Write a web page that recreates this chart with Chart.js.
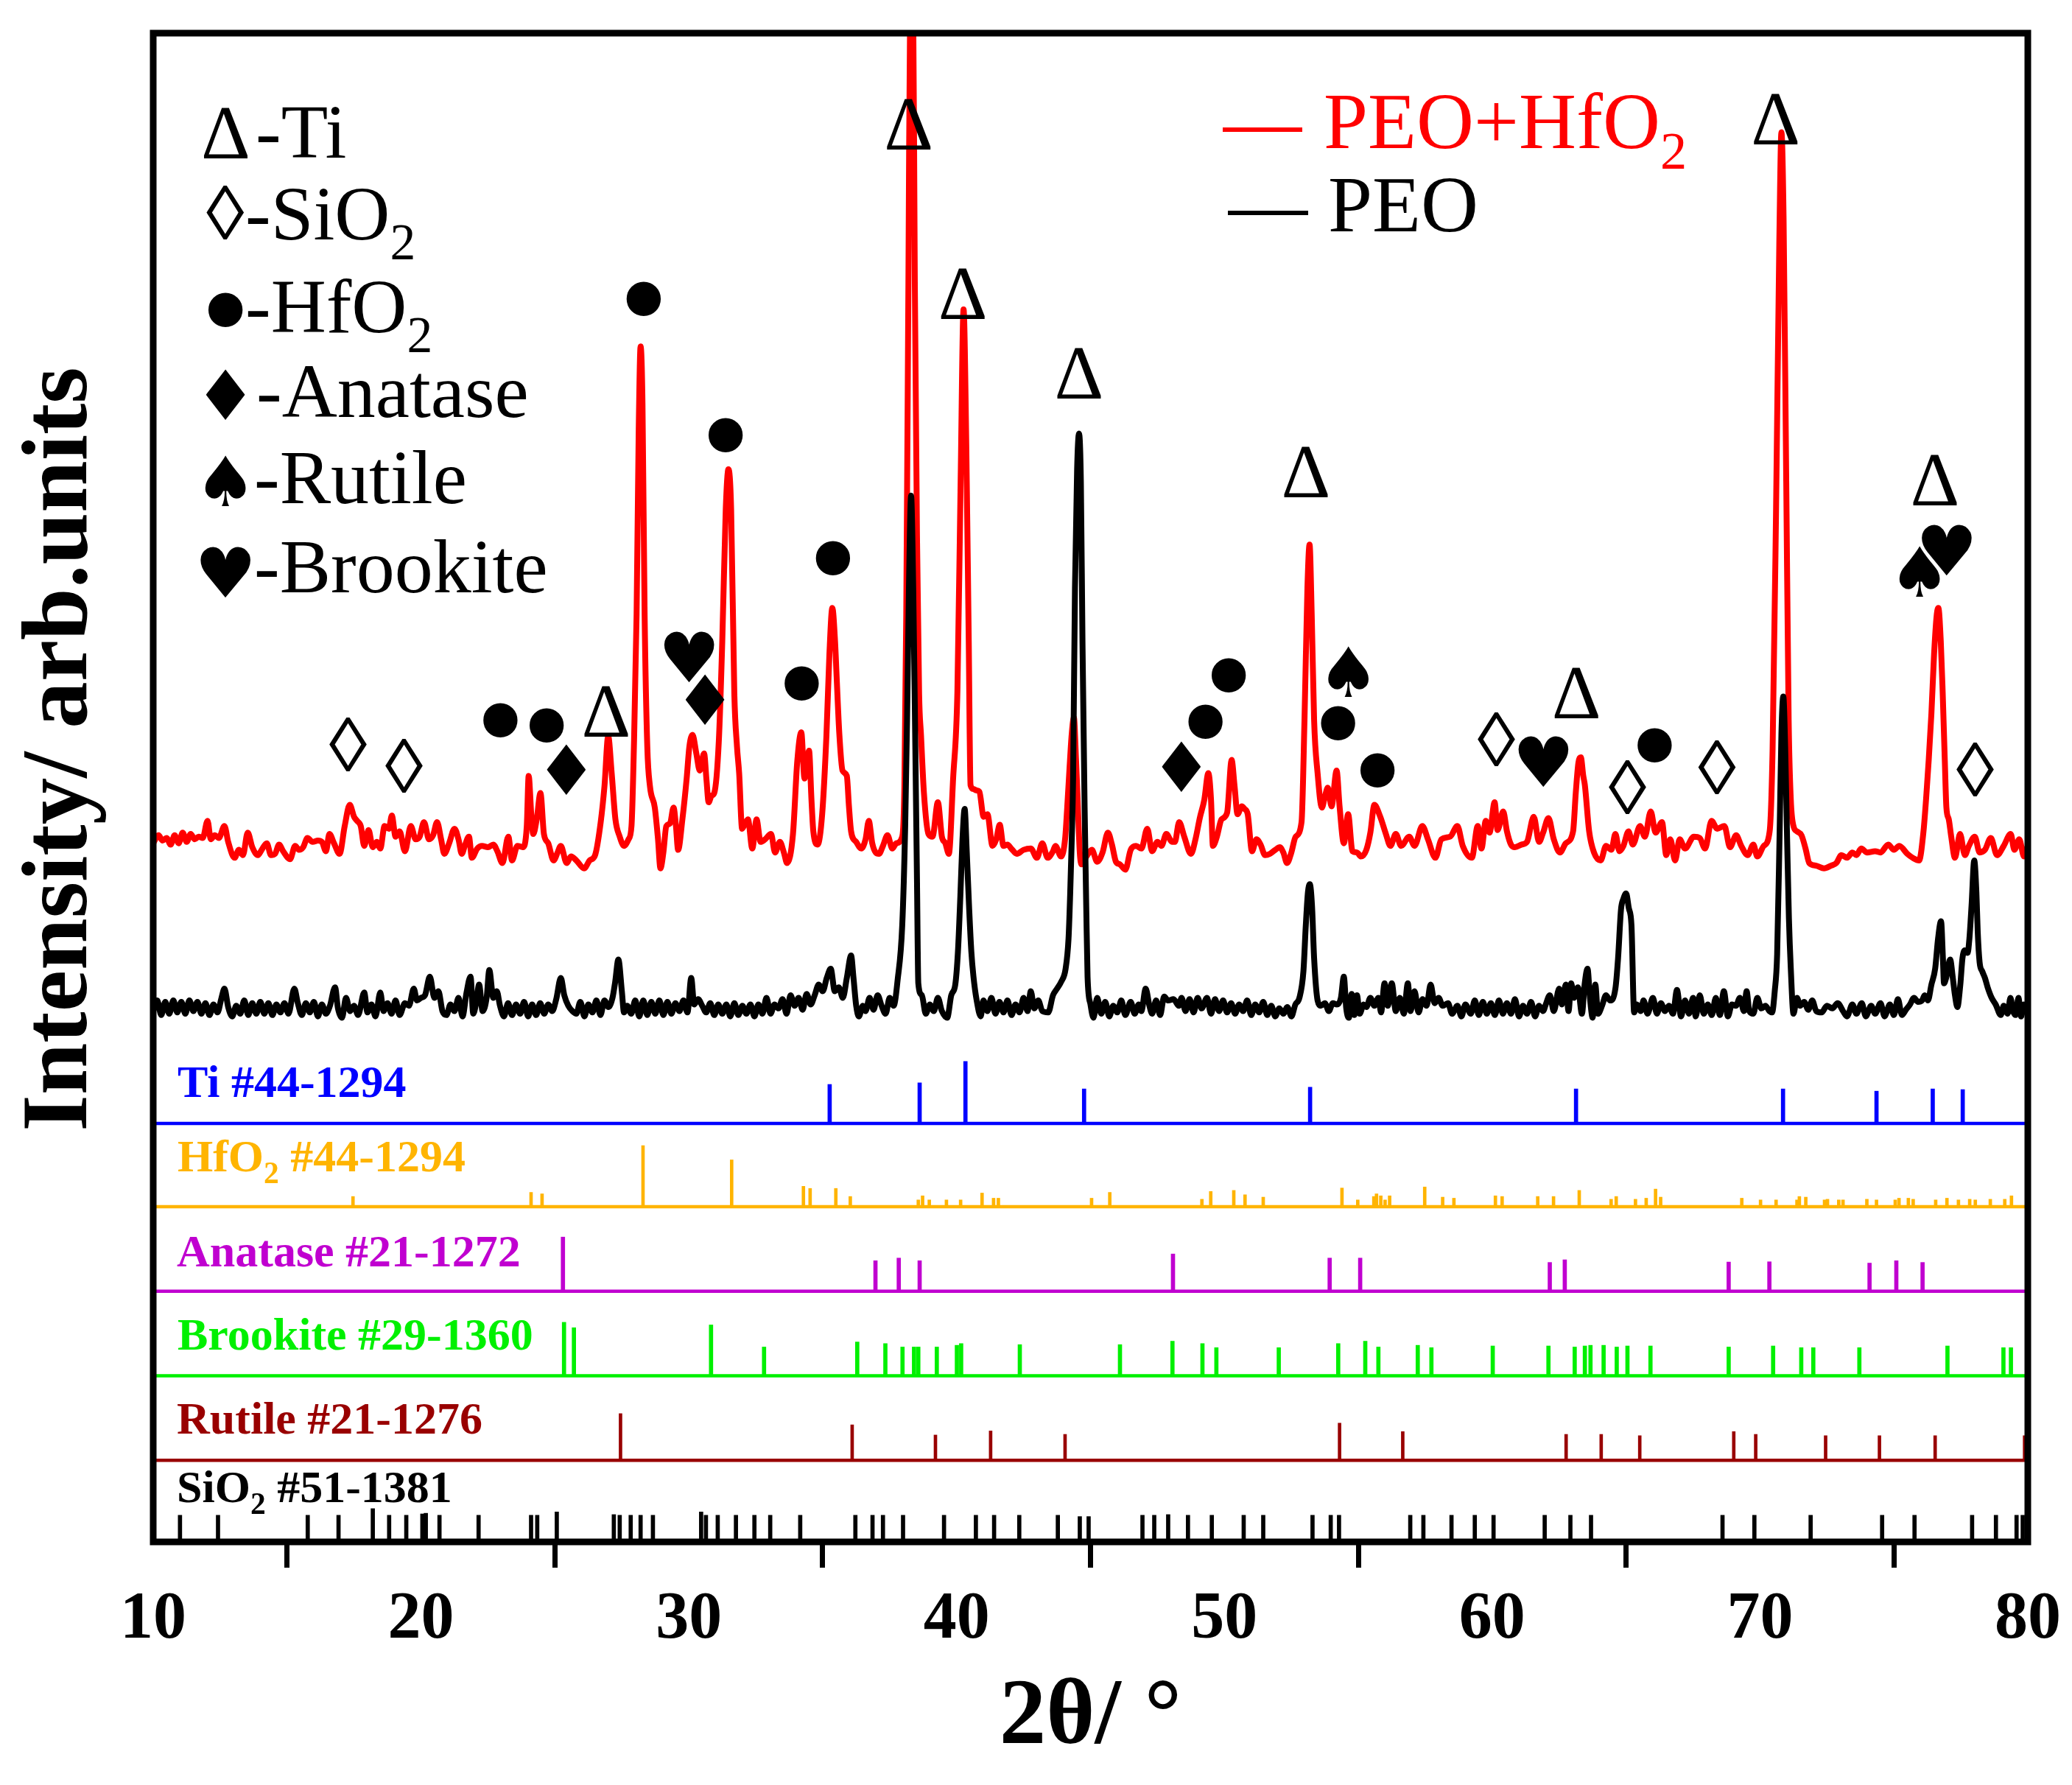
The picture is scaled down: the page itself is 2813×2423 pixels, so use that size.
<!DOCTYPE html>
<html>
<head>
<meta charset="utf-8">
<script src="https://cdn.jsdelivr.net/npm/chart.js@4.4.0/dist/chart.umd.min.js"></script>
<style>html,body{margin:0;padding:0;background:#fff}canvas{display:block}</style>
</head>
<body>
<canvas id="xrd" width="2813" height="2423"></canvas>
<script>
// measured patterns, [2theta, intensity] (arb. units)
const peoHfO2 = [
  [10.0,527],[10.2,533],[10.35,529],[10.5,531],[10.65,526],[10.8,533],[10.95,527],[11.1,535],[11.25,528],[11.4,534],
  [11.55,530],[11.7,532],[11.85,531],[12.03,544],[12.15,530],[12.3,533],[12.45,531],[12.66,540],[12.8,528],[13.04,516],
  [13.2,522],[13.35,518],[13.53,535],[13.7,524],[13.91,518],[14.05,522],[14.24,527],[14.4,518],[14.55,519],[14.7,526],
  [14.85,521],[15.11,515],[15.3,525],[15.45,522],[15.6,524],[15.76,531],[15.95,528],[16.15,529],[16.3,528],[16.45,521],
  [16.58,534],[16.75,527],[16.96,519],[17.15,540],[17.34,556],[17.5,547],[17.61,544],[17.75,540],[17.88,525],[18.04,537],
  [18.2,524],[18.35,528],[18.48,523],[18.64,540],[18.8,538],[18.91,548],[19.05,532],[19.2,536],[19.4,521],[19.62,540],
  [19.8,530],[19.95,532],[20.11,543],[20.3,530],[20.45,533],[20.6,543],[20.75,530],[20.87,519],[21.05,527],[21.25,538],
  [21.4,530],[21.52,519],[21.65,526],[21.79,532],[21.9,516],[22.1,523],[22.28,525],[22.5,524],[22.7,526],[22.85,521],
  [23.04,512],[23.26,532],[23.4,514],[23.6,525],[23.8,524],[23.95,540],[24.02,578],[24.12,548],[24.19,534],[24.32,545],
  [24.46,565],[24.59,534],[24.75,527],[24.95,514],[25.1,520],[25.22,525],[25.44,512],[25.6,517],[25.8,514],[26.09,508],
  [26.3,514],[26.5,518],[26.71,543],[26.85,570],[26.99,608],[27.12,580],[27.26,545],[27.42,532],[27.58,525],[27.75,530],
  [27.86,540],[27.95,600],[28.05,700],[28.13,840],[28.2,903],[28.27,860],[28.35,700],[28.45,600],[28.55,570],[28.73,554],
  [28.85,530],[28.94,508],[29.05,520],[29.16,540],[29.3,542],[29.43,554],[29.52,540],[29.6,522],[29.76,545],[29.92,576],
  [30.02,600],[30.14,609],[30.28,595],[30.41,582],[30.57,595],[30.66,575],[30.74,558],[30.85,563],[30.95,565],[31.12,604],
  [31.25,680],[31.38,780],[31.48,810],[31.58,780],[31.7,640],[31.8,600],[31.88,580],[31.99,538],[32.1,542],[32.21,545],
  [32.37,523],[32.53,545],[32.68,528],[32.85,530],[33.07,534],[33.22,520],[33.4,528],[33.55,520],[33.67,512],[33.89,534],
  [34.05,589],[34.2,611],[34.32,576],[34.42,590],[34.49,597],[34.58,560],[34.65,536],[34.81,526],[34.98,549],[35.14,609],
  [35.25,670],[35.36,705],[35.46,680],[35.52,653],[35.62,610],[35.74,582],[35.9,578],[35.98,555],[36.06,536],[36.25,528],
  [36.44,523],[36.6,530],[36.72,544],[36.85,527],[36.98,520],[37.1,519],[37.25,525],[37.42,533],[37.6,523],[37.75,527],
  [37.97,532],[38.05,570],[38.12,700],[38.2,950],[38.28,1200],[38.36,1210],[38.44,950],[38.52,760],[38.6,640],[38.67,609],
  [38.78,565],[38.95,534],[39.1,532],[39.3,558],[39.45,532],[39.58,527],[39.71,519],[39.87,576],[40.03,642],[40.15,800],
  [40.26,931],[40.36,830],[40.45,686],[40.52,571],[40.63,568],[40.74,567],[40.85,566],[41.01,547],[41.15,549],[41.34,525],
  [41.48,530],[41.61,541],[41.75,525],[41.9,526],[42.04,523],[42.25,519],[42.5,522],[42.77,523],[43.0,516],[43.2,527],
  [43.4,516],[43.6,521],[43.69,525],[43.9,517],[44.05,530],[44.13,554],[44.22,585],[44.3,610],[44.38,622],[44.46,590],
  [44.51,565],[44.6,520],[44.67,511],[44.85,517],[45.05,522],[45.25,513],[45.45,520],[45.65,535],[45.8,526],[45.95,513],
  [46.1,511],[46.3,507],[46.5,522],[46.7,525],[46.9,523],[47.12,538],[47.3,521],[47.5,528],[47.65,525],[47.83,534],
  [48.05,528],[48.15,528],[48.31,543],[48.5,532],[48.75,519],[48.92,530],[49.08,546],[49.25,560],[49.4,580],[49.5,560],
  [49.57,525],[49.72,532],[49.89,545],[50.1,550],[50.27,590],[50.38,570],[50.49,549],[50.65,555],[50.75,553],[50.87,549],
  [51.03,521],[51.2,530],[51.35,526],[51.52,518],[51.7,519],[51.9,522],[52.07,524],[52.2,520],[52.34,512],[52.5,520],
  [52.66,532],[52.88,543],[52.99,620],[53.1,720],[53.18,753],[53.26,700],[53.35,620],[53.48,580],[53.64,554],[53.75,562],
  [53.86,569],[54.0,555],[54.19,582],[54.3,555],[54.46,527],[54.62,549],[54.78,521],[54.95,520],[55.1,517],[55.3,522],
  [55.45,535],[55.6,556],[55.82,547],[56.03,534],[56.2,525],[56.4,534],[56.6,525],[56.9,532],[57.1,525],[57.39,540],
  [57.6,530],[57.88,516],[58.1,530],[58.43,532],[58.7,540],[58.9,525],[59.24,516],[59.46,540],[59.6,523],[59.76,544],
  [59.9,535],[60.09,558],[60.2,537],[60.41,551],[60.55,536],[60.7,526],[60.85,524],[61.1,526],[61.3,528],[61.55,547],
  [61.75,528],[61.9,535],[62.1,546],[62.3,530],[62.53,520],[62.75,527],[63.02,536],[63.12,565],[63.22,588],[63.31,592],
  [63.4,578],[63.46,571],[63.62,536],[63.8,520],[64.05,514],[64.25,525],[64.45,522],[64.6,534],[64.75,521],[64.9,525],
  [65.09,536],[65.25,526],[65.52,540],[65.7,532],[65.92,551],[66.1,535],[66.34,543],[66.5,518],[66.65,530],[66.83,514],
  [67.0,530],[67.2,523],[67.53,532],[67.75,531],[67.95,523],[68.19,544],[68.4,538],[68.67,540],[68.88,524],[69.11,533],
  [69.3,525],[69.54,518],[69.75,526],[69.9,517],[70.14,525],[70.36,536],[70.47,598],[70.6,780],[70.72,980],[70.8,1065],
  [70.88,1000],[70.98,800],[71.07,620],[71.15,560],[71.25,540],[71.38,536],[71.55,533],[71.7,523],[71.84,512],[72.1,510],
  [72.39,508],[72.65,510],[72.85,512],[73.04,518],[73.25,516],[73.45,520],[73.6,518],[73.78,523],[74.0,520],[74.3,521],
  [74.5,520],[74.79,526],[75.0,522],[75.2,525],[75.5,519],[75.7,516],[75.94,514],[76.1,535],[76.2,560],[76.3,590],
  [76.4,625],[76.5,670],[76.6,700],[76.66,705],[76.75,680],[76.82,642],[76.9,590],[76.96,554],[77.05,545],[77.14,532],
  [77.28,516],[77.47,534],[77.65,518],[77.8,525],[78.02,532],[78.2,520],[78.4,522],[78.62,531],[78.85,518],[79.1,525],
  [79.36,534],[79.5,522],[79.68,530],[79.86,517],[80.0,525]
];

const peo = [
  [10.0,400],[10.15,408],[10.3,397],[10.45,407],[10.6,398],[10.75,408],[10.9,399],[11.05,407],[11.2,398],[11.35,408],
  [11.5,400],[11.65,407],[11.8,398],[11.95,406],[12.1,397],[12.25,405],[12.4,399],[12.55,410],[12.66,417],[12.8,403],
  [12.95,396],[13.1,404],[13.25,398],[13.4,408],[13.55,397],[13.7,406],[13.85,398],[14.0,407],[14.15,398],[14.3,406],
  [14.45,397],[14.6,405],[14.75,399],[14.9,406],[15.05,398],[15.27,417],[15.4,406],[15.55,397],[15.7,406],[15.85,399],
  [16.0,407],[16.15,396],[16.3,405],[16.45,398],[16.6,404],[16.79,418],[16.9,402],[17.05,395],[17.2,410],[17.35,400],
  [17.5,404],[17.65,397],[17.88,414],[18.0,399],[18.15,405],[18.3,396],[18.48,414],[18.6,400],[18.75,406],[18.9,398],
  [19.05,408],[19.2,397],[19.4,406],[19.55,404],[19.73,417],[19.85,408],[20.0,410],[20.15,412],[20.33,426],[20.5,410],
  [20.65,415],[20.8,400],[20.95,397],[21.1,405],[21.25,400],[21.4,410],[21.55,396],[21.7,414],[21.85,426],[21.95,398],
  [22.05,405],[22.17,420],[22.3,400],[22.45,410],[22.55,431],[22.7,410],[22.83,415],[22.95,404],[23.1,396],[23.25,406],
  [23.4,397],[23.55,405],[23.7,398],[23.85,407],[24.0,396],[24.15,405],[24.3,397],[24.45,406],[24.6,398],[24.75,405],
  [24.9,400],[25.05,409],[25.22,425],[25.35,412],[25.5,404],[25.65,400],[25.8,398],[25.95,407],[26.1,396],[26.25,405],
  [26.4,399],[26.55,408],[26.7,397],[26.85,408],[27.0,403],[27.15,410],[27.25,422],[27.37,439],[27.5,415],[27.58,399],
  [27.7,404],[27.85,398],[28.0,408],[28.15,396],[28.3,408],[28.45,397],[28.6,407],[28.75,398],[28.9,408],[29.05,397],
  [29.2,407],[29.35,398],[29.5,406],[29.65,400],[29.8,408],[29.95,399],[30.09,425],[30.2,405],[30.35,409],[30.5,404],
  [30.65,399],[30.8,406],[30.95,397],[31.1,405],[31.25,398],[31.4,405],[31.55,396],[31.7,406],[31.85,397],[32.0,404],
  [32.15,398],[32.3,405],[32.45,396],[32.6,405],[32.75,398],[32.9,410],[33.05,398],[33.2,405],[33.35,402],[33.5,409],
  [33.65,398],[33.8,412],[33.95,404],[34.1,410],[34.25,401],[34.4,413],[34.55,405],[34.7,412],[34.85,420],[35.0,415],
  [35.15,425],[35.3,432],[35.45,415],[35.6,418],[35.75,410],[35.9,425],[36.06,442],[36.15,425],[36.25,404],[36.35,396],
  [36.5,404],[36.6,400],[36.75,410],[36.9,401],[37.05,412],[37.2,404],[37.35,398],[37.5,410],[37.65,404],[37.8,424],
  [37.97,465],[38.08,540],[38.15,620],[38.22,720],[38.3,790],[38.38,720],[38.46,598],[38.52,500],[38.57,421],[38.7,412],
  [38.85,398],[39.0,405],[39.15,400],[39.3,410],[39.45,400],[39.65,395],[39.8,412],[39.95,420],[40.05,445],[40.14,487],
  [40.22,530],[40.3,553],[40.38,520],[40.47,477],[40.55,445],[40.63,426],[40.75,408],[40.9,396],[41.0,408],[41.15,400],
  [41.3,410],[41.45,398],[41.6,407],[41.75,399],[41.9,408],[42.05,397],[42.2,405],[42.35,399],[42.5,410],[42.65,400],
  [42.77,415],[42.9,402],[43.05,408],[43.2,400],[43.42,399],[43.6,412],[43.75,417],[43.9,422],[44.07,432],[44.18,455],
  [44.24,488],[44.3,530],[44.35,576],[44.42,720],[44.5,810],[44.57,837],[44.64,800],[44.7,680],[44.78,554],[44.84,480],
  [44.89,426],[45.0,405],[45.11,395],[45.25,410],[45.4,398],[45.55,407],[45.7,396],[45.85,404],[46.0,399],[46.15,408],
  [46.3,397],[46.5,407],[46.65,398],[46.8,405],[46.9,400],[47.06,417],[47.2,404],[47.3,398],[47.45,408],[47.6,397],
  [47.75,411],[47.9,408],[48.1,409],[48.3,404],[48.4,410],[48.55,400],[48.7,409],[48.85,399],[49.0,410],[49.15,402],
  [49.35,410],[49.5,398],[49.65,409],[49.8,400],[49.95,408],[50.1,399],[50.25,406],[50.4,398],[50.55,405],[50.7,400],
  [50.85,408],[51.0,397],[51.15,405],[51.3,399],[51.45,407],[51.6,397],[51.75,404],[51.9,396],[52.05,402],[52.2,398],
  [52.35,403],[52.5,396],[52.65,405],[52.8,410],[52.95,430],[53.04,465],[53.12,490],[53.19,496],[53.27,480],[53.35,440],
  [53.48,408],[53.6,404],[53.75,406],[53.9,400],[54.05,406],[54.2,405],[54.35,410],[54.46,426],[54.55,402],[54.65,395],
  [54.75,413],[54.85,397],[54.95,412],[55.05,398],[55.2,405],[55.3,403],[55.45,410],[55.6,404],[55.75,410],[55.85,399],
  [55.98,421],[56.1,404],[56.25,421],[56.4,400],[56.55,410],[56.7,398],[56.85,421],[56.95,400],[57.1,415],[57.25,399],
  [57.4,409],[57.55,404],[57.7,420],[57.85,406],[58.0,410],[58.15,404],[58.35,406],[58.5,398],[58.7,404],[58.85,396],
  [59.0,405],[59.2,398],[59.35,408],[59.5,397],[59.65,407],[59.8,398],[59.95,406],[60.1,397],[60.25,408],[60.4,398],
  [60.55,406],[60.7,398],[60.85,409],[61.0,396],[61.15,404],[61.3,398],[61.45,407],[61.6,396],[61.75,404],[61.9,400],
  [62.0,405],[62.15,412],[62.3,400],[62.5,417],[62.6,405],[62.75,420],[62.85,400],[62.95,421],[63.05,410],[63.2,418],
  [63.35,398],[63.45,420],[63.56,432],[63.65,410],[63.75,395],[63.85,420],[63.95,398],[64.1,404],[64.25,412],[64.4,408],
  [64.6,417],[64.7,440],[64.81,477],[64.9,485],[65.0,489],[65.1,478],[65.2,465],[65.3,399],[65.4,405],[65.55,400],
  [65.65,408],[65.8,398],[66.0,410],[66.15,398],[66.3,406],[66.45,400],[66.6,404],[66.75,398],[66.9,416],[67.05,396],
  [67.2,408],[67.35,398],[67.5,410],[67.6,396],[67.75,412],[67.9,398],[68.05,405],[68.2,397],[68.35,410],[68.5,397],
  [68.65,415],[68.8,396],[68.95,405],[69.1,404],[69.25,410],[69.4,400],[69.5,415],[69.6,400],[69.75,398],[69.9,410],
  [70.05,402],[70.2,404],[70.35,400],[70.45,399],[70.55,415],[70.64,443],[70.73,532],[70.8,610],[70.87,638],[70.94,600],
  [71.01,532],[71.08,470],[71.15,432],[71.25,398],[71.38,410],[71.5,404],[71.65,407],[71.8,401],[71.95,408],[72.1,400],
  [72.3,399],[72.5,404],[72.7,402],[72.9,406],[73.1,400],[73.25,396],[73.45,405],[73.6,398],[73.8,406],[73.95,396],
  [74.15,404],[74.3,398],[74.5,406],[74.65,396],[74.85,405],[75.0,397],[75.15,409],[75.3,397],[75.45,401],[75.6,405],
  [75.75,410],[75.9,407],[76.05,408],[76.15,412],[76.27,408],[76.4,420],[76.54,432],[76.65,455],[76.76,468],[76.83,440],
  [76.87,421],[76.95,425],[77.1,439],[77.2,425],[77.28,412],[77.37,403],[77.48,420],[77.56,440],[77.65,446],[77.75,444],
  [77.82,455],[77.9,480],[78.0,514],[78.08,490],[78.13,460],[78.2,437],[78.3,430],[78.4,425],[78.5,418],[78.65,410],
  [78.8,405],[78.99,397],[79.1,404],[79.25,398],[79.35,410],[79.45,400],[79.55,397],[79.65,410],[79.75,396],[79.85,405],
  [80.0,400]
];

// reference cards: line positions (2theta) and stick heights
const tiPos = [35.26, 38.62, 40.33, 44.76, 53.2, 63.13, 70.86, 74.35, 76.45, 77.57];
const tiInt = [29.5, 30.7, 46.9, 26.1, 27.4, 26.1, 26.1, 24.4, 26.1, 25.6];

const hfPos = [17.46, 24.11, 24.52, 28.29, 31.6, 34.28, 34.53, 35.49, 36.03, 38.57, 38.73, 38.98, 39.62, 40.15, 40.95,
  41.38, 41.56, 45.04, 45.72, 49.16, 49.49, 50.35, 50.77, 51.45, 54.39, 54.98, 55.58, 55.68, 55.84, 56.0, 56.17, 57.48,
  58.15, 58.57, 60.12, 60.37, 61.7, 62.29, 63.25, 64.44, 64.63, 65.35, 65.75, 66.1, 66.29, 69.32, 70.02, 70.6, 71.38,
  71.47, 71.71, 72.41, 72.52, 72.94, 73.1, 73.99, 74.35, 75.05, 75.19, 75.54, 75.72, 76.56, 76.98, 77.41, 77.83, 78.04,
  78.6, 79.14, 79.39];
const hfInt = [7.7, 10.8, 9.7, 46.2, 35.4, 15.4, 13.8, 13.8, 7.7, 5.1, 8.2, 5.1, 5.1, 5.1, 10.3,
  6.4, 6.4, 6.4, 10.8, 5.6, 11.5, 12.3, 9.0, 7.2, 14.1, 5.1, 7.7, 9.7, 8.2, 5.1, 8.2, 14.9,
  7.2, 6.4, 8.2, 7.7, 7.7, 7.7, 12.3, 5.6, 7.7, 5.6, 6.4, 13.3, 7.2, 6.4, 5.1, 5.1, 5.1,
  7.7, 7.2, 5.1, 5.6, 5.1, 5.1, 5.6, 5.1, 5.1, 6.4, 6.4, 5.6, 5.1, 6.4, 5.1, 5.6, 5.1,
  5.6, 5.6, 8.2];

const anPos = [25.3, 36.97, 37.84, 38.62, 48.08, 53.93, 55.07, 62.15, 62.71, 68.83, 70.35, 74.09, 75.09, 76.07];
const anInt = [41.0, 23.1, 25.1, 23.1, 28.2, 25.1, 25.1, 21.8, 23.8, 22.1, 22.3, 21.3, 23.1, 21.8];

const brPos = [25.34, 25.71, 30.83, 32.81, 36.29, 37.34, 37.98, 38.41, 38.57, 39.26, 40.01, 40.17, 42.36, 46.1, 48.06,
  49.18, 49.7, 52.03, 54.25, 55.26, 55.75, 57.22, 57.73, 60.02, 62.1, 63.08, 63.46, 63.67, 64.16, 64.65, 65.05, 65.91,
  68.83, 70.49, 71.54, 71.99, 73.71, 77.0, 79.09, 79.37];
const brInt = [40.5, 36.4, 38.5, 21.8, 25.6, 24.4, 21.8, 21.8, 21.8, 21.8, 23.1, 24.4, 23.6, 23.6, 26.2,
  24.4, 21.3, 21.3, 24.4, 26.2, 21.8, 23.1, 21.3, 22.6, 22.6, 21.8, 22.6, 23.1, 23.1, 21.8, 22.6, 22.6,
  21.8, 22.6, 21.3, 21.3, 21.3, 22.6, 21.3, 21.3];

const ruPos = [27.45, 36.1, 39.21, 41.27, 44.05, 54.3, 56.66, 62.76, 64.07, 65.51, 69.02, 69.84, 72.45, 74.46, 76.54, 79.88];
const ruInt = [35.4, 26.9, 19.2, 22.3, 19.7, 28.2, 21.8, 19.7, 19.7, 18.7, 21.8, 19.7, 18.7, 18.7, 18.7, 18.7];

const siPos = [11.0, 12.42, 15.77, 16.92, 18.2, 18.81, 19.45, 20.05, 20.18, 20.69, 22.15, 24.11, 24.34, 25.07, 27.2,
  27.42, 27.83, 28.2, 28.66, 30.46, 30.64, 31.08, 31.76, 32.45, 33.04, 34.16, 36.22, 36.86, 37.25, 38.0, 39.53, 40.72,
  41.4, 42.34, 43.78, 44.6, 44.93, 46.94, 47.38, 47.9, 48.64, 49.53, 50.72, 51.45, 53.29, 53.97, 54.28, 56.94, 57.43,
  58.48, 59.35, 60.05, 61.96, 62.92, 63.69, 68.6, 69.79, 71.89, 74.56, 75.77, 77.92, 78.81, 79.58, 79.81];
const siInt = [18.5, 18.5, 18.5, 18.5, 23.5, 18.5, 18.5, 19.5, 20, 18.5, 18.5, 18.5, 18.5, 21, 19,
  18.5, 18.5, 18.5, 18.5, 21, 18.5, 18.5, 18.5, 18.5, 18.5, 18.5, 18.5, 18.5, 18.5, 18.5, 18.5, 18.5,
  18.5, 18.5, 18.5, 17.5, 17.5, 18.5, 18.5, 19, 18.5, 18.5, 18.5, 18.5, 18.5, 18.5, 18.5, 18.5, 18.5,
  18.5, 18.5, 18.5, 18.5, 18.5, 18.5, 18.5, 18.5, 18.5, 18.5, 18.5, 18.5, 18.5, 18.5, 18.5];

// offsets of each reference card in the stacked plot
const tiBase = 315, hfBase = 252, anBase = 188, brBase = 124, ruBase = 60, siBase = 0;

// peak markers
const peakSym = ['◊','◊','•','•','♦','Δ','•','♥','♦','•','•','•','Δ','Δ','Δ','♦','•','•','Δ','•','♠','•',
  '◊','♥','Δ','◊','•','◊','Δ','♠','♥','Δ','◊'];
const peakX = [17.28, 19.37, 22.96, 24.69, 25.42, 26.9, 28.31, 30.01, 30.6, 31.37, 34.21, 35.38, 38.2, 40.22, 44.56,
  48.39, 49.29, 50.16, 53.03, 54.24, 54.63, 55.71, 60.16, 61.91, 63.13, 65.06, 66.06, 68.4, 70.57, 75.96, 76.97,
  76.52, 78.04];
const peakY = [602, 586, 620, 616, 583, 627, 939, 668, 636, 836, 648, 743, 1071, 943, 883,
  585, 619, 654, 808, 618, 657, 582, 606, 589, 641, 570, 601, 585, 1075, 733, 749,
  802, 583];

const xTicks = [10, 20, 30, 40, 50, 60, 70, 80];

const FONT = '"Liberation Serif", "Times New Roman", serif';
const SYM_FONT = '"DejaVu Sans", sans-serif';

function sticks(pos, hts, base, color, w) {
  return {
    type: 'bar',
    data: pos.map((p, i) => ({x: p, y: [base, base + hts[i]]})),
    backgroundColor: color,
    borderWidth: 0,
    barThickness: w,
    grouped: false,
    order: 5
  };
}

function baseline(base, color) {
  return {
    type: 'line',
    data: [{x: 10, y: base}, {x: 80, y: base}],
    borderColor: color,
    borderWidth: 4.5,
    pointRadius: 0,
    order: 4
  };
}

function drawSym(ctx, s, cx, cy) {
  if (s === '•') ctx.font = '195px ' + FONT;
  else if ('♦♠♥'.includes(s)) ctx.font = '94px ' + SYM_FONT;
  else ctx.font = '104px ' + FONT;
  ctx.textAlign = 'left';
  ctx.textBaseline = 'alphabetic';
  const m = ctx.measureText(s);
  ctx.fillText(s, cx + (m.actualBoundingBoxLeft - m.actualBoundingBoxRight) / 2,
    cy + (m.actualBoundingBoxAscent - m.actualBoundingBoxDescent) / 2);
}

// text with subscripts: plain strings, or ['2'] for subscript parts
function rich(ctx, x, y, parts, size, weight, color) {
  ctx.fillStyle = color;
  ctx.textAlign = 'left';
  ctx.textBaseline = 'alphabetic';
  parts.forEach(p => {
    const sub = Array.isArray(p);
    const t = sub ? p[0] : p;
    ctx.font = weight + ' ' + (sub ? size * 0.67 : size) + 'px ' + FONT;
    ctx.fillText(t, x, sub ? y + size * 0.26 : y);
    x += ctx.measureText(t).width;
  });
}

const decor = {
  id: 'decor',
  beforeDraw(chart) {
    const ctx = chart.ctx;
    ctx.save();
    ctx.fillStyle = '#fff';
    ctx.fillRect(0, 0, chart.width, chart.height);
    ctx.restore();
  },
  afterDatasetsDraw(chart) {
    const {ctx, chartArea: a, scales: {x, y}} = chart;
    ctx.save();

    // peak markers
    ctx.fillStyle = '#000';
    peakSym.forEach((s, i) => drawSym(ctx, s, x.getPixelForValue(peakX[i]), y.getPixelForValue(peakY[i])));

    // phase key
    const key = [
      ['Δ', 180, 347, ['-Ti'], 214],
      ['◊', 288, 333, ['-SiO', ['2']], 325],
      ['•', 420, 333, ['-HfO', ['2']], 451],
      ['♦', 535, 348, ['-Anatase'], 566],
      ['♠', 652, 345, ['-Rutile'], 683],
      ['♥', 776, 345, ['-Brookite'], 804]
    ];
    key.forEach(k => {
      ctx.fillStyle = '#000';
      drawSym(ctx, k[0], 306, k[1]);
      rich(ctx, k[2], k[4], k[3], 104, 'normal', '#000');
    });

    // series legend
    ctx.lineWidth = 6;
    ctx.strokeStyle = '#ff0000';
    ctx.beginPath(); ctx.moveTo(1660, 176); ctx.lineTo(1768, 176); ctx.stroke();
    rich(ctx, 1797, 201, ['PEO+HfO', ['2']], 108, 'normal', '#ff0000');
    ctx.strokeStyle = '#000';
    ctx.beginPath(); ctx.moveTo(1667, 289); ctx.lineTo(1776, 289); ctx.stroke();
    rich(ctx, 1803, 314, ['PEO'], 108, 'normal', '#000');

    // card labels
    rich(ctx, 241, 1489, ['Ti #44-1294'], 62, 'bold', '#0000ff');
    rich(ctx, 241, 1590, ['HfO', ['2'], ' #44-1294'], 62, 'bold', '#ffb400');
    rich(ctx, 240, 1719, ['Anatase #21-1272'], 62, 'bold', '#c000d0');
    rich(ctx, 241, 1832, ['Brookite #29-1360'], 62, 'bold', '#00f000');
    rich(ctx, 240, 1946, ['Rutile #21-1276'], 62, 'bold', '#990000');
    rich(ctx, 240, 2039, ['SiO', ['2'], ' #51-1381'], 62, 'bold', '#000');

    // frame
    ctx.lineWidth = 9;
    ctx.strokeStyle = '#000';
    ctx.strokeRect(a.left, a.top, a.right - a.left, a.bottom - a.top + 3);

    // y title
    ctx.translate(117, 1017);
    ctx.rotate(-Math.PI / 2);
    ctx.font = 'bold 127px ' + FONT;
    ctx.fillStyle = '#000';
    ctx.textAlign = 'center';
    ctx.textBaseline = 'alphabetic';
    ctx.fillText('Intensity/ arb.units', 0, 0);
    ctx.restore();
  }
};

new Chart(document.getElementById('xrd'), {
  type: 'line',
  data: {
    datasets: [
      {
        label: 'PEO',
        data: peo.map(p => ({x: p[0], y: p[1]})),
        borderColor: '#000',
        borderWidth: 8,
        pointRadius: 0,
        cubicInterpolationMode: 'monotone',
        order: 1
      },
      {
        label: 'PEO+HfO2',
        data: peoHfO2.map(p => ({x: p[0], y: p[1]})),
        borderColor: '#ff0000',
        borderWidth: 8,
        pointRadius: 0,
        cubicInterpolationMode: 'monotone',
        order: 2
      },
      baseline(tiBase, '#0000ff'),
      baseline(hfBase, '#ffb400'),
      baseline(anBase, '#c000d0'),
      baseline(brBase, '#00f000'),
      baseline(ruBase, '#990000'),
      sticks(tiPos, tiInt, tiBase, '#0000ff', 5),
      sticks(hfPos, hfInt, hfBase, '#ffb400', 4),
      sticks(anPos, anInt, anBase, '#c000d0', 5),
      sticks(brPos, brInt, brBase, '#00f000', 5),
      sticks(ruPos, ruInt, ruBase, '#990000', 4),
      sticks(siPos, siInt, siBase, '#000', 5)
    ]
  },
  options: {
    responsive: false,
    animation: false,
    devicePixelRatio: 1,
    layout: {padding: {left: 0, right: 60, top: 45, bottom: 0}},
    plugins: {legend: {display: false}, tooltip: {enabled: false}},
    elements: {line: {tension: 0}},
    scales: {
      x: {
        type: 'linear',
        min: 10,
        max: 80,
        offset: false,
        afterBuildTicks: s => { s.ticks = xTicks.map(v => ({value: v})); },
        afterFit: s => { s.height = 333; s.paddingLeft = 0; s.paddingRight = 0; },
        ticks: {
          font: {family: FONT, size: 90, weight: 'bold'},
          color: '#000',
          padding: 18,
          maxRotation: 0,
          autoSkip: false
        },
        grid: {drawOnChartArea: false, drawTicks: true, tickLength: 38, tickWidth: 7, tickColor: '#000'},
        border: {display: false},
        title: {
          display: true,
          text: '2θ/ °',
          color: '#000',
          font: {family: FONT, size: 127, weight: 'bold', lineHeight: 1},
          padding: {top: 0, bottom: 26}
        }
      },
      y: {
        type: 'linear',
        min: 0,
        max: 1140,
        ticks: {display: false},
        grid: {display: false},
        border: {display: false},
        afterFit: s => { s.width = 208; s.paddingTop = 0; s.paddingBottom = 0; }
      }
    }
  },
  plugins: [decor]
});
</script>
</body>
</html>
